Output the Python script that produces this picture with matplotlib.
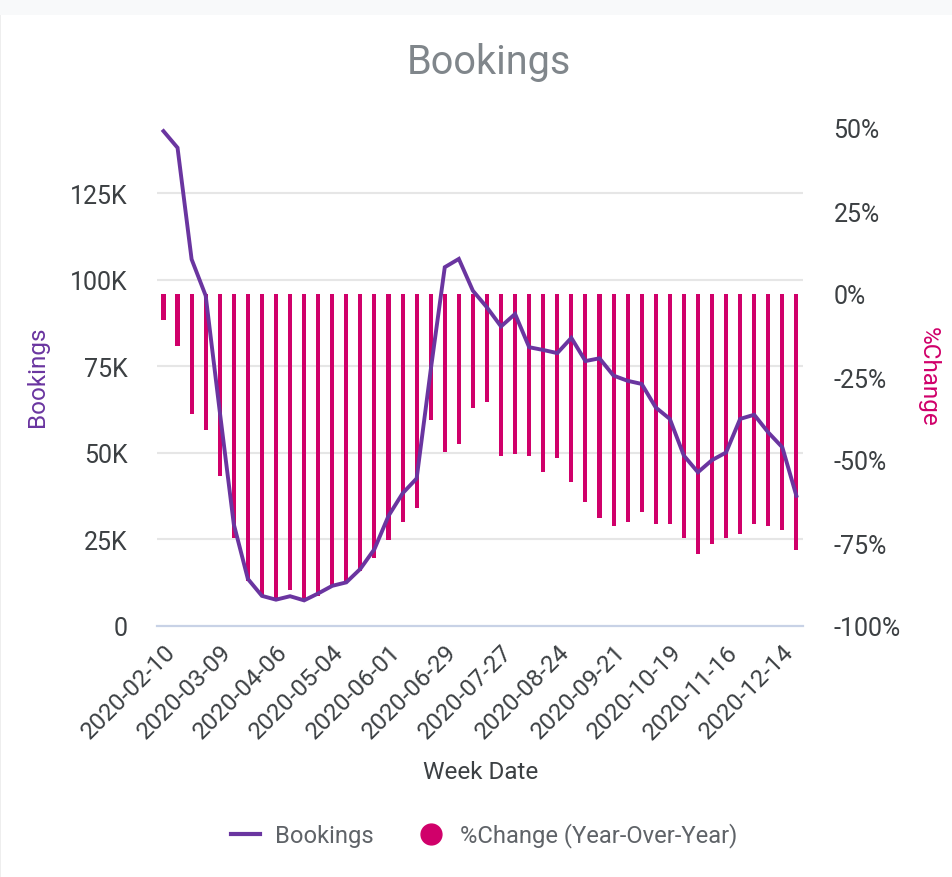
import matplotlib
matplotlib.use("Agg")
import matplotlib.pyplot as plt
from matplotlib.lines import Line2D
from matplotlib.patches import Rectangle
from matplotlib.ticker import FuncFormatter
import pandas as pd
import numpy as np

plt.rcParams['font.family'] = ['Roboto', 'DejaVu Sans']

# ---- data ----
week_dates = [d.strftime('%Y-%m-%d') for d in pd.date_range('2020-02-10', periods=46, freq='7D')]
bookings_k = [142.9, 138.1, 105.9, 95.4, 62.0, 29.4, 13.6, 8.7, 7.6, 8.6,
              7.4, 9.4, 11.6, 12.6, 16.5, 22.2, 31.8, 38.3, 42.6, 73.9,
              103.6, 106.0, 96.8, 92.0, 86.5, 90.1, 80.5, 79.7, 78.8, 83.2,
              76.5, 77.3, 72.3, 70.8, 69.9, 63.1, 59.8, 49.2, 44.4, 47.9,
              50.1, 59.8, 61.0, 55.9, 51.6, 37.6]
pct_change = [-7.7, -15.6, -36.1, -40.9, -54.7, -73.5, -86.5, -90.9, -91.9, -89.1,
              -92.4, -90.9, -87.9, -86.4, -83.5, -79.4, -74.1, -68.6, -64.4, -37.9,
              -47.5, -45.2, -34.3, -32.5, -48.7, -48.2, -48.7, -53.5, -49.4, -56.5,
              -62.6, -67.4, -69.8, -68.7, -65.6, -69.3, -69.3, -73.4, -78.2, -75.2,
              -73.4, -72.2, -69.3, -69.8, -71.0, -77.0]
left_ticks = [0, 25000, 50000, 75000, 100000, 125000]
right_ticks = [-100, -75, -50, -25, 0, 25, 50]

LINE_C = '#6a35a0'
BAR_C = '#d0006a'
TICK_C = '#3c4043'
GRID_C = '#e6e6e6'

W, H = 953, 878
fig = plt.figure(figsize=(W / 100, H / 100), dpi=100)
fig.patch.set_facecolor('white')
fig.patches.append(Rectangle((0, 1 - 16 / H), 1, 16 / H, transform=fig.transFigure,
                             facecolor='#f8f9fa', edgecolor='none', zorder=0))
fig.patches.append(Rectangle((0, 0), 1.5 / W, 1 - 16 / H, transform=fig.transFigure,
                             facecolor='#eeeeee', edgecolor='none', zorder=0))

left, right, bottom, top = 157 / W, 803 / W, 1 - 627 / H, 1 - 129 / H
ax_pct = fig.add_axes([left, bottom, right - left, top - bottom])
ax_bk = ax_pct.twinx()

x = np.arange(len(week_dates))
ymax_bk = 143800

# bars (right axis) drawn underneath
ax_pct.bar(x, pct_change, width=0.29, color=BAR_C, zorder=3)
ax_pct.set_ylim(-100, 50)
ax_pct.set_xlim(-0.46, len(x) - 1 + 0.47)

# line (left axis) on top
ax_bk.plot(x, [v * 1000 for v in bookings_k], color=LINE_C, lw=2.8,
           solid_joinstyle='miter', zorder=4)
ax_bk.set_ylim(0, ymax_bk)

# swap sides: bookings on left, %change on right
ax_bk.yaxis.tick_left()
ax_pct.yaxis.tick_right()
ax_bk.set_yticks(left_ticks)
ax_bk.yaxis.set_major_formatter(FuncFormatter(lambda v, p: '0' if v == 0 else f'{int(v/1000)}K'))
ax_pct.set_yticks(right_ticks)
ax_pct.yaxis.set_major_formatter(FuncFormatter(lambda v, p: f'{int(v)}%'))

# gridlines at left-axis tick positions, drawn on the bar axes beneath bars
grid_pct = [-100 + 150 * t / ymax_bk for t in left_ticks[1:]]
for g in grid_pct:
    ax_pct.axhline(g, color=GRID_C, lw=1.5, zorder=1)

for a in (ax_pct, ax_bk):
    for s in a.spines.values():
        s.set_visible(False)
    a.tick_params(length=0)
ax_pct.spines['bottom'].set_visible(True)
ax_pct.spines['bottom'].set_color('#c8d2e6')
ax_pct.spines['bottom'].set_linewidth(1.6)

ax_bk.tick_params(axis='y', labelsize=18, labelcolor=TICK_C, pad=21)
ax_pct.tick_params(axis='y', labelsize=18, labelcolor=TICK_C, pad=22)

ax_pct.set_xticks(x[::4])
ax_pct.set_xticklabels(week_dates[::4], rotation=45, ha='right', rotation_mode='anchor',
                       fontsize=17.5, color=TICK_C)
ax_pct.tick_params(axis='x', pad=10)

# titles / labels
fig.text(489 / W, 1 - 62 / H, 'Bookings', ha='center', va='center', fontsize=28.5, color='#80868b')
fig.text(481 / W, 1 - 773 / H, 'Week Date', ha='center', va='center', fontsize=17.5, color=TICK_C)
fig.text(38 / W, 1 - 377 / H, 'Bookings', ha='center', va='center', rotation=90,
         fontsize=17.5, color=LINE_C)
fig.text(928 / W, 1 - 377 / H, '%Change', ha='center', va='center', rotation=270,
         fontsize=17.5, color=BAR_C)

handles = [Line2D([0], [0], color=LINE_C, lw=3),
           Line2D([0], [0], marker='o', color='none', markerfacecolor=BAR_C,
                  markeredgecolor=BAR_C, markersize=15)]
leg = fig.legend(handles, ['Bookings', '%Change (Year-Over-Year)'], loc='center',
                 bbox_to_anchor=(484 / W, 1 - 836 / H), ncol=2, frameon=False,
                 fontsize=17.1, handlelength=1.25, handletextpad=0.6, columnspacing=1.8)
for t in leg.get_texts():
    t.set_color('#5f6368')

fig.savefig('out.png', dpi=100)
